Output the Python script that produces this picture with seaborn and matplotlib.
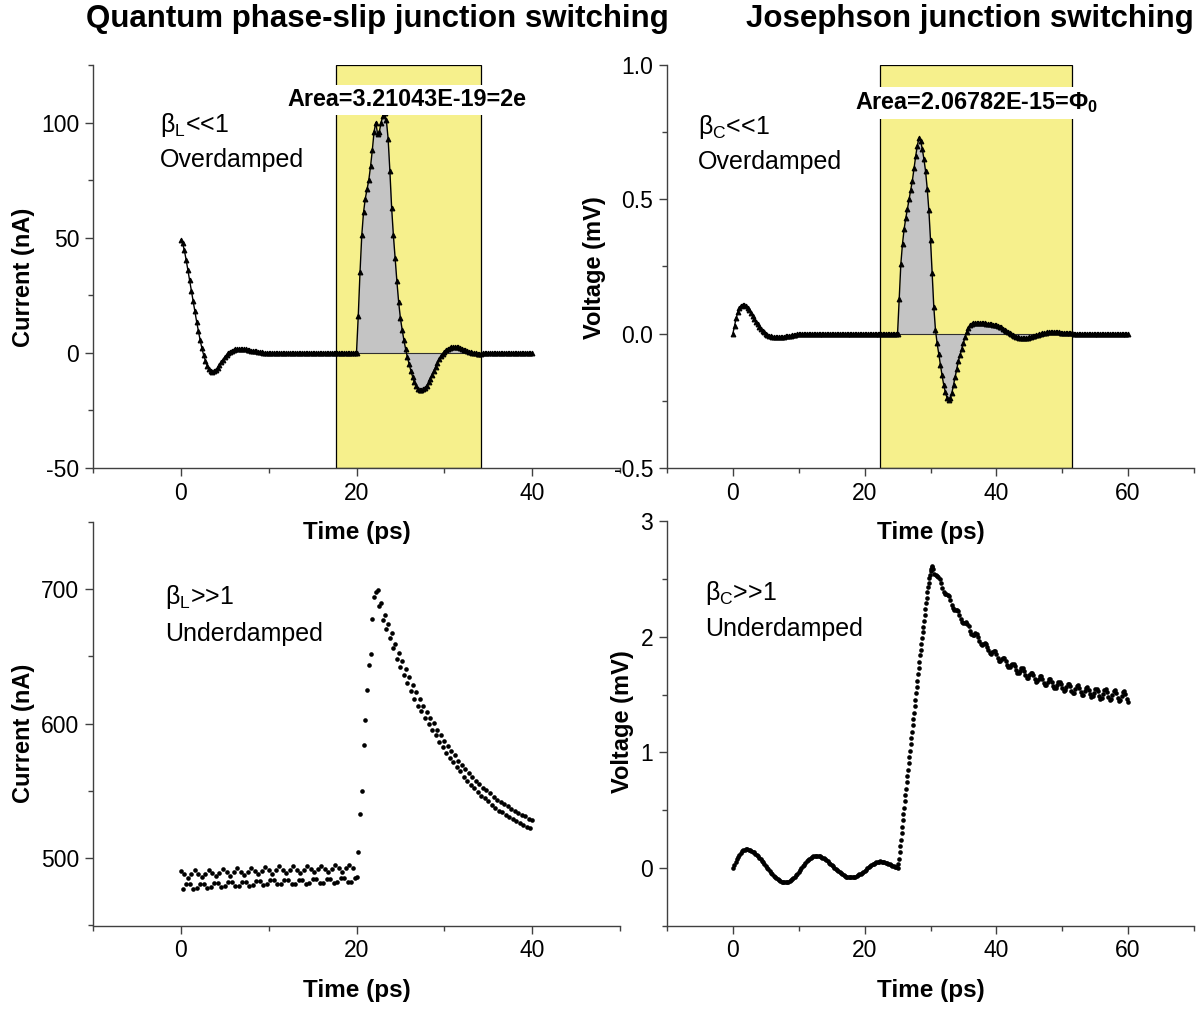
import numpy as np
import matplotlib
matplotlib.use("Agg")
import matplotlib.pyplot as plt
from matplotlib.ticker import MultipleLocator, FormatStrFormatter
import seaborn as sns

# ---------------------------------------------------------------- time grids (ps)
t_qps_od = np.arange(201) * 0.2          # 0 .. 40 ps
t_jj_od = np.arange(241) * 0.25          # 0 .. 60 ps
t_qps_ud = np.arange(201) * 0.2          # 0 .. 40 ps
t_jj_ud = np.concatenate([np.arange(125) * 0.2,        # 0 .. 24.8 ps
                          25.0 + np.arange(54) * 0.1,  # 25.0 .. 30.3 ps
                          30.4 + np.arange(149) * 0.2])  # 30.4 .. 60 ps

# ---------------------------------------------------------------- QPS junction, beta_L << 1 : current (nA)
current_overdamped = [
    49, 47.5, 44.5, 40.5, 36, 31.5, 27, 22.5, 18, 13.5, 9.5,
    5.5, 2, -1, -3.5, -5.5, -7, -7.8, -8.1, -7.9, -7.3,
    -6.4, -5.3, -4.1, -2.9, -1.8, -0.9, -0.1, 0.5, 1.0, 1.3,
    1.5, 1.6, 1.7, 1.7, 1.7, 1.6, 1.5, 1.4, 1.2, 1.0,
    0.9, 0.7, 0.6, 0.4, 0.3, 0.2, 0.1, 0.0, -0.1, -0.2,
    -0.2, -0.2, -0.2, -0.2, -0.2, -0.2, -0.1, -0.1, -0.1, -0.1,
    0, 0, 0, 0, 0, 0, 0, 0, 0, 0, 0, 0, 0, 0, 0, 0, 0, 0, 0, 0,
    0, 0, 0, 0, 0, 0, 0, 0, 0, 0, 0, 0, 0, 0, 0, 0, 0, 0, 0,
    0, 16, 35, 51, 61, 67, 71, 75, 81, 88,
    96, 100, 95, 96, 100, 103, 104, 101, 93, 79,
    63, 51, 41, 31, 22, 15, 10, 5.5, 1.5, -2,
    -5, -8, -10.5, -12.8, -14.5, -15.6, -16.1, -16.2, -15.9, -15.2,
    -14.2, -12.8, -11.2, -9.5, -7.8, -6.0, -4.3, -2.8, -1.5, -0.4,
    0.5, 1.2, 1.7, 2.1, 2.4, 2.6, 2.6, 2.6, 2.4, 2.1,
    1.8, 1.4, 1.1, 0.8, 0.5, 0.3, 0.1, -0.1, -0.2, -0.3,
    -0.3, -0.3, -0.2, -0.2, -0.1, 0, 0, 0, 0, 0,
    0, 0, 0, 0, 0, 0, 0, 0, 0, 0, 0, 0, 0, 0, 0, 0, 0, 0, 0, 0, 0,
]

# ---------------------------------------------------------------- Josephson junction, beta_C << 1 : voltage (mV)
voltage_overdamped = [
    0.000, 0.030, 0.058, 0.080, 0.095, 0.104, 0.108, 0.107, 0.103, 0.096,
    0.087, 0.077, 0.066, 0.055, 0.045, 0.035, 0.026, 0.018, 0.011, 0.005,
    0.000, -0.004, -0.007, -0.009, -0.011, -0.012, -0.013, -0.013, -0.013, -0.013,
    -0.012, -0.011, -0.010, -0.009, -0.008, -0.007, -0.006, -0.005, -0.004, -0.003,
    -0.002, -0.002, -0.001, -0.001, -0.001, 0, 0, 0, 0,
    0, 0, 0, 0, 0, 0, 0, 0, 0, 0, 0, 0, 0, 0, 0, 0, 0, 0, 0, 0, 0, 0, 0, 0, 0,
    0, 0, 0, 0, 0, 0, 0, 0, 0, 0, 0, 0, 0, 0, 0, 0, 0, 0, 0, 0, 0, 0, 0, 0, 0, 0,
    0.000, 0.130, 0.260, 0.335, 0.390, 0.430, 0.465, 0.500, 0.535, 0.570,
    0.615, 0.660, 0.700, 0.728, 0.718, 0.688, 0.650, 0.605, 0.540, 0.460,
    0.350, 0.225, 0.100, 0.015, -0.035, -0.075, -0.115, -0.155, -0.190, -0.218,
    -0.238, -0.246, -0.240, -0.220, -0.190, -0.160, -0.130, -0.100, -0.078, -0.056,
    -0.034, -0.012, 0.008, 0.022, 0.031, 0.036, 0.038, 0.039, 0.039, 0.039,
    0.039, 0.038, 0.038, 0.038, 0.037, 0.037, 0.036, 0.035, 0.034, 0.033,
    0.031, 0.029, 0.026, 0.023, 0.019, 0.015, 0.011, 0.007, 0.003, -0.001,
    -0.005, -0.008, -0.011, -0.013, -0.015, -0.016, -0.017, -0.017, -0.016, -0.015,
    -0.014, -0.012, -0.010, -0.008, -0.006, -0.004, -0.002, 0.000, 0.001, 0.003,
    0.004, 0.005, 0.005, 0.006, 0.006, 0.006, 0.006, 0.005, 0.005, 0.004,
    0.004, 0.003, 0.003, 0.002, 0.002, 0.001, 0.001, 0, 0, 0,
    0, 0, 0, 0, 0, 0, 0, 0, 0, 0, 0, 0, 0, 0, 0, 0,
    0, 0, 0, 0, 0, 0, 0, 0, 0, 0, 0, 0, 0, 0, 0,
]

# ---------------------------------------------------------------- QPS junction, beta_L >> 1 : current (nA)
current_underdamped = [
    490.5, 477.5, 488, 480.5, 485.5, 480.5, 488, 477.5,
    491, 478, 488.5, 481, 486, 481, 488.5, 478,
    491.5, 478.5, 489, 481.5, 486.5, 481.5, 489, 478.5,
    492, 479, 489.5, 482, 487, 482, 489.5, 479,
    492.5, 479.5, 490, 482.5, 487.5, 482.5, 490, 479.5,
    493, 480, 490.5, 483, 488, 483, 490.5, 480,
    493.5, 480.5, 491, 483.5, 488.5, 483.5, 491, 480.5,
    494, 481, 491.5, 484, 489, 484, 491.5, 481,
    494, 481, 491.5, 484, 489, 484, 491.5, 481,
    494.5, 481.5, 492, 484.5, 489.5, 484.5, 492, 481.5,
    494.5, 481.5, 492, 484.5, 489.5, 484.5, 492, 481.5,
    495, 482, 492.5, 485, 490, 485, 492.5, 482,
    495, 482, 492.5, 485,
    486, 505, 533, 550, 584, 603, 625, 644, 652, 678, 694, 698,
    699.5, 687.5, 689.5, 677.5, 680.5, 670.5, 674.5, 663.5, 667.5, 656.5,
    659.5, 648.5, 652.5, 642.5, 646.5, 636.5, 640.5, 630.5, 634.5, 624.5,
    628.5, 618.5, 623.5, 613.5, 618.5, 609.5, 613.5, 604.5, 608.5, 599.5,
    604.5, 595.5, 600.5, 591.5, 595.5, 586.5, 591.5, 582.5, 587.5, 578.5,
    583.5, 574.5, 579.5, 571.5, 576.5, 567.5, 572.5, 564.5, 569.5, 560.5,
    566.5, 557.5, 563.5, 554.5, 560.5, 552.5, 557.5, 549.5, 555.5, 546.5,
    552.5, 544.5, 550.5, 542.5, 548.5, 539.5, 545.5, 537.5, 543.5, 535.5,
    541.5, 534.5, 540.5, 532.5, 538.5, 530.5, 536.5, 529.5, 535.5, 527.5,
    533.5, 526.5, 532.5, 524.5, 531.5, 523.5, 529.5, 522.5, 528.5,
]

# ---------------------------------------------------------------- Josephson junction, beta_C >> 1 : voltage (mV)
voltage_underdamped = [
    # 0 .. 24.8 ps, ringing before switching
    0.000, 0.025, 0.050, 0.073, 0.094, 0.113, 0.129, 0.143, 0.152, 0.158, 0.160,
    0.159, 0.157, 0.153, 0.148, 0.141, 0.133, 0.123, 0.113, 0.101, 0.088,
    0.075, 0.061, 0.046, 0.032, 0.017, 0.001, -0.013, -0.028, -0.042, -0.055,
    -0.068, -0.080, -0.090, -0.100, -0.108, -0.115, -0.120, -0.124, -0.126, -0.127,
    -0.126, -0.123, -0.117, -0.110, -0.101, -0.090, -0.078, -0.065, -0.050, -0.035,
    -0.019, -0.004, 0.012, 0.027, 0.042, 0.055, 0.067, 0.078, 0.087, 0.094,
    0.100, 0.103, 0.104,
    0.103, 0.101, 0.098, 0.094, 0.088, 0.081, 0.073, 0.065, 0.055, 0.045,
    0.035, 0.024, 0.013, 0.002, -0.009, -0.020, -0.031, -0.040, -0.049, -0.057,
    -0.065, -0.071, -0.076, -0.080, -0.083, -0.084,
    -0.084, -0.083, -0.080, -0.076, -0.071, -0.065, -0.058, -0.051, -0.042, -0.033,
    -0.024, -0.015, -0.005, 0.004, 0.013, 0.022, 0.029, 0.036, 0.042, 0.047,
    0.051, 0.054, 0.055,
    0.054, 0.052, 0.049, 0.045, 0.040, 0.035, 0.029, 0.024, 0.019, 0.014, 0.009, 0.005,
    # 25.0 .. 30.3 ps, switching edge
    0.000, 0.030, 0.080, 0.135, 0.190, 0.245, 0.300, 0.355, 0.410, 0.465,
    0.520, 0.575, 0.630, 0.685, 0.740, 0.795, 0.850, 0.905, 0.960, 1.015,
    1.070, 1.125, 1.180, 1.235, 1.290, 1.345, 1.400, 1.455, 1.510, 1.565,
    1.620, 1.675, 1.730, 1.785, 1.840, 1.890, 1.940, 1.990, 2.040, 2.090,
    2.140, 2.190, 2.240, 2.290, 2.340, 2.385, 2.430, 2.470, 2.510, 2.540,
    2.570, 2.590, 2.610, 2.615,
    # 30.4 .. 60 ps, relaxation with plasma oscillation
    2.590, 2.549, 2.533, 2.525, 2.517, 2.501, 2.465, 2.420, 2.389, 2.373,
    2.370, 2.367, 2.351, 2.320, 2.280, 2.249, 2.233, 2.235, 2.237, 2.221,
    2.190, 2.159, 2.125, 2.120, 2.120, 2.125, 2.115, 2.091, 2.049, 2.025,
    2.015, 2.020, 2.030, 2.025, 1.996, 1.964, 1.935, 1.930, 1.940, 1.950,
    1.942, 1.917, 1.883, 1.858, 1.853, 1.867, 1.880, 1.876, 1.852, 1.817,
    1.794, 1.790, 1.805, 1.820, 1.817, 1.795, 1.761, 1.739, 1.737, 1.753,
    1.769, 1.767, 1.746, 1.712, 1.688, 1.688, 1.708, 1.728, 1.728, 1.704,
    1.671, 1.647, 1.648, 1.669, 1.690, 1.691, 1.668, 1.636, 1.613, 1.614,
    1.636, 1.658, 1.660, 1.637, 1.603, 1.580, 1.584, 1.608, 1.632, 1.636,
    1.613, 1.577, 1.555, 1.559, 1.584, 1.608, 1.612, 1.590, 1.555, 1.534,
    1.538, 1.563, 1.588, 1.593, 1.571, 1.535, 1.511, 1.517, 1.545, 1.574,
    1.580, 1.555, 1.519, 1.495, 1.501, 1.530, 1.559, 1.565, 1.541, 1.505,
    1.482, 1.488, 1.517, 1.546, 1.553, 1.529, 1.492, 1.466, 1.474, 1.506,
    1.539, 1.546, 1.521, 1.481, 1.456, 1.464, 1.496, 1.529, 1.537, 1.512,
    1.473, 1.448, 1.455, 1.488, 1.521, 1.529, 1.504, 1.465, 1.440,
]

# integration windows and the filled areas inside them
window_qps = (17.7, 34.2)
window_jj = (22.3, 51.5)
fill_qps = (20.0, 34.2)
fill_jj = (25.0, 51.5)

# ---------------------------------------------------------------- style
sns.set_theme(style="ticks")
plt.rcParams["font.family"] = ["Liberation Sans", "DejaVu Sans"]
plt.rcParams["mathtext.fontset"] = "custom"
plt.rcParams["mathtext.rm"] = "Liberation Sans"
plt.rcParams["mathtext.it"] = "Liberation Sans:italic"
plt.rcParams["mathtext.bf"] = "Liberation Sans:bold"
plt.rcParams["axes.unicode_minus"] = False
plt.rcParams["text.color"] = "black"
plt.rcParams["axes.labelcolor"] = "black"
plt.rcParams["xtick.labelcolor"] = "black"
plt.rcParams["ytick.labelcolor"] = "black"

AXIS_COLOR = "#404040"
YELLOW = "#f6f08c"
GREY_FILL = "#c4c4c4"
TICK_FS = 16.5
LABEL_FS = 17.5
NOTE_FS = 18

W, H = 1198, 1009
fig = plt.figure(figsize=(W / 100, H / 100), dpi=100)
fig.patch.set_facecolor("white")


def rect(left, top, right, bottom):
    return [left / W, 1 - bottom / H, (right - left) / W, (bottom - top) / H]


ax1 = fig.add_axes(rect(93, 65, 620, 468))
ax2 = fig.add_axes(rect(667, 65, 1194, 468))
ax3 = fig.add_axes(rect(93, 522, 620, 925.5))
ax4 = fig.add_axes(rect(667, 521.5, 1194, 925.5))


def style_axes(ax, xlim, ylim, ymaj, ymin, yfmt, ylabel, ylab_xy):
    sns.despine(ax=ax)
    ax.patch.set_visible(False)
    ax.set_xlim(*xlim)
    ax.set_ylim(*ylim)
    ax.xaxis.set_major_locator(MultipleLocator(20))
    ax.xaxis.set_minor_locator(MultipleLocator(10))
    ax.yaxis.set_major_locator(MultipleLocator(ymaj))
    ax.yaxis.set_minor_locator(MultipleLocator(ymin))
    ax.yaxis.set_major_formatter(FormatStrFormatter(yfmt))
    for side in ("left", "bottom"):
        ax.spines[side].set_color(AXIS_COLOR)
        ax.spines[side].set_linewidth(1.0)
    ax.tick_params(which="major", direction="out", length=6, width=1,
                   color=AXIS_COLOR, labelsize=TICK_FS, pad=4, labelcolor="black")
    ax.tick_params(which="minor", direction="out", length=3.5, width=1,
                   color=AXIS_COLOR)
    ax.set_xlabel("Time (ps)", fontsize=LABEL_FS, fontweight="bold", va="center",
                  color="black")
    ax.xaxis.set_label_coords(0.5, -0.161)
    ax.set_ylabel(ylabel, fontsize=17, fontweight="bold", va="center",
                  color="black")
    ax.yaxis.set_label_coords(*ylab_xy)


def note(ax, x, y, text, **kw):
    ax.text(x, y, text, transform=ax.transAxes, fontsize=NOTE_FS,
            va="center", ha="left", color="black", **kw)


tri_style = dict(color="black", linewidth=1.0, marker="^", markersize=3.4,
                 markeredgewidth=0.8, markeredgecolor="black", zorder=3)

# ---------------------------------------------------------------- panel 1: QPS overdamped
t1 = np.asarray(t_qps_od)
i1 = np.asarray(current_overdamped, dtype=float)
assert len(t1) == len(i1)
ax1.axvspan(*window_qps, facecolor=YELLOW, edgecolor="black", linewidth=0.9, zorder=0)
m1 = (t1 >= fill_qps[0] - 1e-6) & (t1 <= fill_qps[1] + 1e-6)
ax1.fill_between(t1[m1], i1[m1], 0, color=GREY_FILL, linewidth=0, zorder=1)
ax1.hlines(0, *fill_qps, color="#303030", linewidth=0.8, zorder=2)
sns.lineplot(x=t1, y=i1, ax=ax1, **tri_style)
style_axes(ax1, (-10, 50), (-50, 125), 50, 25, "%d", "Current (nA)", (-0.132, 0.474))
note(ax1, 0.127, 0.851, "β$_\\mathregular{L}$<<1")
note(ax1, 0.127, 0.764, "Overdamped")
ax1.text(25.7, 110, "Area=3.21043E-19=2e", fontsize=16.8, fontweight="bold",
         ha="center", va="center", zorder=5, color="black",
         bbox=dict(facecolor="white", edgecolor="none", pad=2.5))

# ---------------------------------------------------------------- panel 2: JJ overdamped
t2 = np.asarray(t_jj_od)
v2 = np.asarray(voltage_overdamped, dtype=float)
assert len(t2) == len(v2)
ax2.axvspan(*window_jj, facecolor=YELLOW, edgecolor="black", linewidth=0.9, zorder=0)
m2 = (t2 >= fill_jj[0] - 1e-6) & (t2 <= fill_jj[1] + 1e-6)
ax2.fill_between(t2[m2], v2[m2], 0, color=GREY_FILL, linewidth=0, zorder=1)
ax2.hlines(0, *fill_jj, color="#303030", linewidth=0.8, zorder=2)
sns.lineplot(x=t2, y=v2, ax=ax2, **tri_style)
style_axes(ax2, (-10, 70), (-0.5, 1.0), 0.5, 0.25, "%.1f", "Voltage (mV)", (-0.137, 0.497))
note(ax2, 0.059, 0.846, "β$_\\mathregular{C}$<<1")
note(ax2, 0.059, 0.759, "Overdamped")
ax2.text(37.0, 0.86, "Area=2.06782E-15=Φ$_\\mathregular{0}$", fontsize=16.8,
         fontweight="bold", ha="center", va="center", zorder=5, color="black",
         bbox=dict(facecolor="white", edgecolor="none", pad=2.5))

# ---------------------------------------------------------------- panel 3: QPS underdamped
t3 = np.asarray(t_qps_ud)
i3 = np.asarray(current_underdamped, dtype=float)
assert len(t3) == len(i3)
sns.scatterplot(x=t3, y=i3, ax=ax3, color="black", s=11, linewidth=0, zorder=3)
style_axes(ax3, (-10, 50), (450, 750), 100, 50, "%d", "Current (nA)", (-0.132, 0.477))
note(ax3, 0.137, 0.814, "β$_\\mathregular{L}$>>1")
note(ax3, 0.137, 0.722, "Underdamped")

# ---------------------------------------------------------------- panel 4: JJ underdamped
t4 = np.asarray(t_jj_ud)
v4 = np.asarray(voltage_underdamped, dtype=float)
assert len(t4) == len(v4)
sns.scatterplot(x=t4, y=v4, ax=ax4, color="black", s=11, linewidth=0, zorder=3)
style_axes(ax4, (-10, 70), (-0.5, 3.0), 1, 0.5, "%d", "Voltage (mV)", (-0.085, 0.504))
note(ax4, 0.072, 0.824, "β$_\\mathregular{C}$>>1")
note(ax4, 0.072, 0.734, "Underdamped")

# ---------------------------------------------------------------- column titles
fig.text(377 / W, 1 - 19 / H, "Quantum phase-slip junction switching",
         fontsize=22.5, fontweight="bold", ha="center", va="center", color="black")
fig.text(970 / W, 1 - 19 / H, "Josephson junction switching",
         fontsize=22.5, fontweight="bold", ha="center", va="center", color="black")

fig.savefig("out.png", dpi=100, facecolor="white")
